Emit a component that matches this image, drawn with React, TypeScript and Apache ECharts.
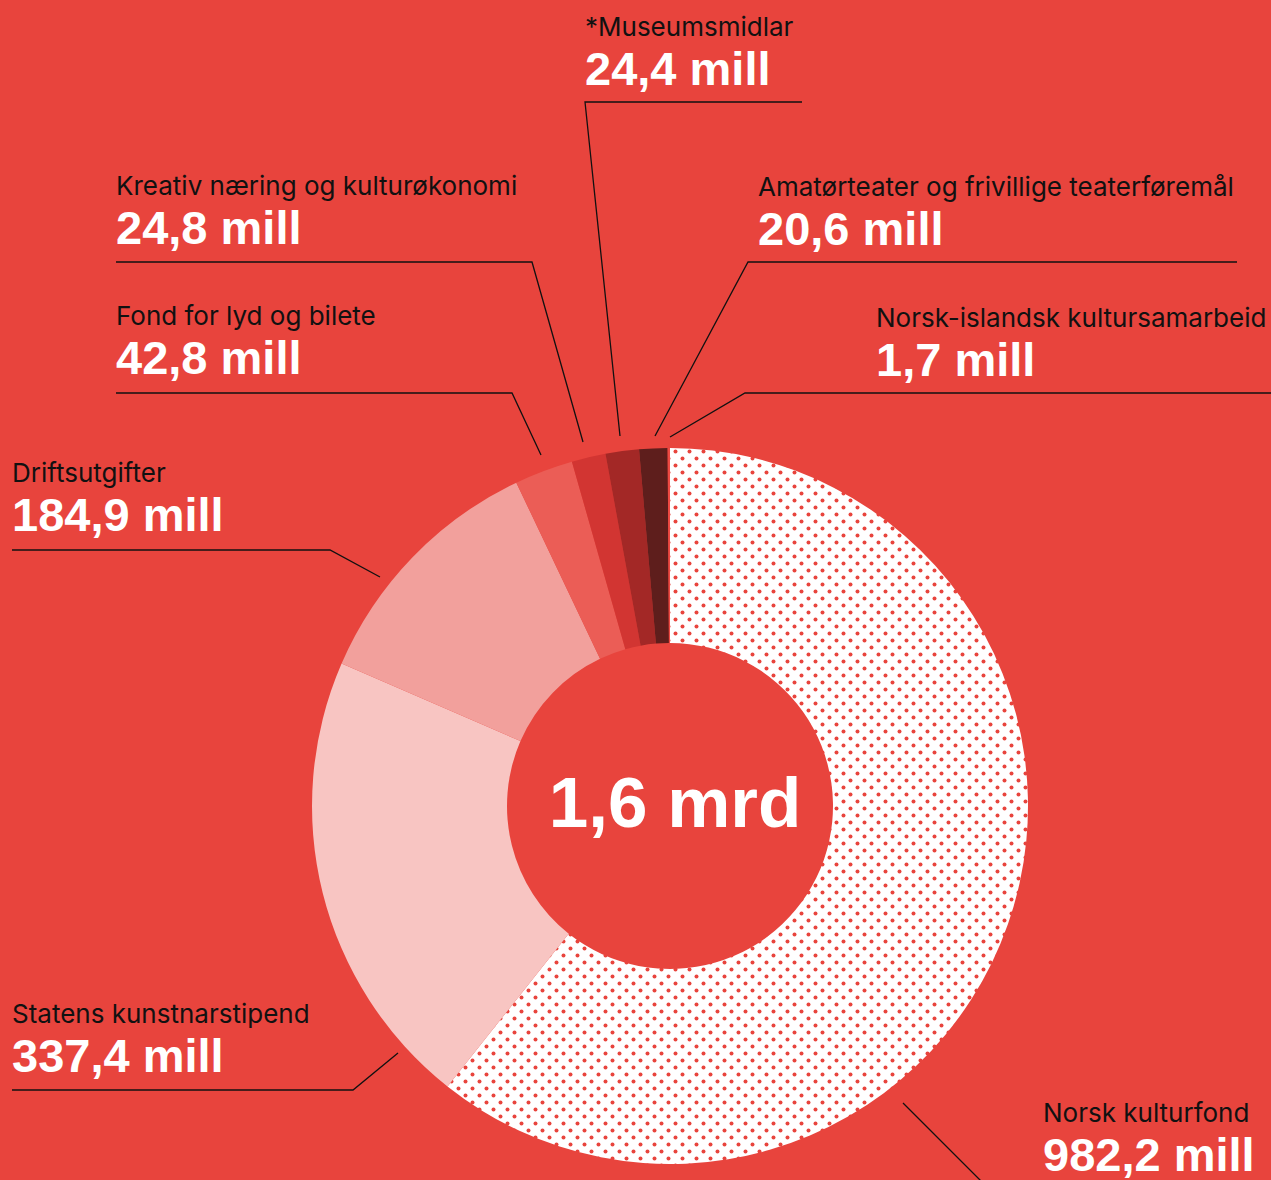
import React, { useEffect, useRef } from 'react';
import * as echarts from 'echarts';

// ---- data ----
const categories = [
  'Norsk kulturfond',
  'Statens kunstnarstipend',
  'Driftsutgifter',
  'Fond for lyd og bilete',
  'Kreativ næring og kulturøkonomi',
  '*Museumsmidlar',
  'Amatørteater og frivillige teaterføremål',
  'Norsk-islandsk kultursamarbeid',
];
const values = [982.2, 337.4, 184.9, 42.8, 24.8, 24.4, 20.6, 1.7];
const unit = 'mill';
const totalLabel = '1,6 mrd';

// ---- styles / layout ----
const BG = '#E8443D';
const sliceColors = ['pattern', '#F8C5C2', '#F2A09C', '#EB5D56', '#D23532', '#A32826', '#5E1E1C', '#EE4A43'];

const labelLayouts = [
  { x: 1043, top: 1095, line: [[903, 1103], [990, 1190], [1271, 1190]] },
  { x: 12, top: 996, line: [[398, 1053], [353, 1090], [12, 1090]] },
  { x: 12, top: 455, line: [[380, 577], [330, 550], [12, 550]] },
  { x: 116, top: 298, line: [[541, 455], [512, 393], [116, 393]] },
  { x: 116, top: 168, line: [[583, 442], [532, 262], [116, 262]] },
  { x: 585, top: 9, line: [[620, 436], [585, 102], [802, 102]] },
  { x: 758, top: 169, line: [[655, 436], [748, 262], [1237, 262]] },
  { x: 876, top: 300, line: [[670, 437], [745, 393], [1271, 393]] },
];

function makeDotPattern() {
  const size = 14;
  const c = document.createElement('canvas');
  c.width = size;
  c.height = size;
  const ctx = c.getContext('2d')!;
  ctx.fillStyle = '#ffffff';
  ctx.fillRect(0, 0, size, size);
  ctx.fillStyle = BG;
  ctx.beginPath();
  ctx.arc(3.5, 3.5, 2, 0, Math.PI * 2);
  ctx.fill();
  ctx.beginPath();
  ctx.arc(10.5, 10.5, 2, 0, Math.PI * 2);
  ctx.fill();
  return { image: c.toDataURL(), repeat: 'repeat', imageWidth: size, imageHeight: size };
}

function fmt(v: number) {
  return v.toFixed(1).replace('.', ',') + ' ' + unit;
}

export default function App() {
  const ref = useRef<HTMLDivElement>(null);
  useEffect(() => {
    document.body.style.margin = '0';
    document.body.style.background = BG;
    const chart = echarts.init(ref.current!, null, { renderer: 'svg' });
    const pattern = makeDotPattern();
    const data = categories.map((name, i) => ({
      name,
      value: values[i],
      itemStyle: { color: sliceColors[i] === 'pattern' ? (pattern as any) : sliceColors[i] },
    }));
    chart.setOption({
      animation: false,
      backgroundColor: BG,
      series: [
        {
          type: 'pie',
          center: [670, 806],
          radius: [163, 358],
          startAngle: 90,
          clockwise: true,
          silent: true,
          avoidLabelOverlap: false,
          emphasis: { disabled: true },
          itemStyle: { borderWidth: 0 },
          data,
          label: {
            show: true,
            position: 'outside',
            alignTo: 'none',
            formatter: (p: any) => `{n|${p.name}}\n{v|${fmt(p.value)}}`,
            rich: {
              n: { fontSize: 26, lineHeight: 34, color: '#111111', fontFamily: 'Inter' },
              v: {
                fontSize: 47,
                lineHeight: 50,
                color: '#ffffff',
                fontWeight: 'bold',
                fontFamily: 'Liberation Sans',
              },
            },
          },
          labelLine: {
            show: true,
            smooth: false,
            lineStyle: { color: '#111111', width: 1.3 },
          },
          labelLayout: (p: any) => {
            const L = labelLayouts[p.dataIndex];
            return {
              x: L.x,
              y: L.top,
              align: 'left',
              verticalAlign: 'top',
              labelLinePoints: L.line,
            };
          },
        },
      ],
      graphic: [
        {
          type: 'text',
          x: 675,
          y: 802,
          style: {
            text: totalLabel,
            fill: '#ffffff',
            fontSize: 71,
            fontWeight: 'bold',
            fontFamily: 'Liberation Sans',
            align: 'center',
            verticalAlign: 'middle',
          },
        },
      ],
    });
    return () => chart.dispose();
  }, []);
  return <div ref={ref} style={{ width: 1271, height: 1180 }} />;
}
